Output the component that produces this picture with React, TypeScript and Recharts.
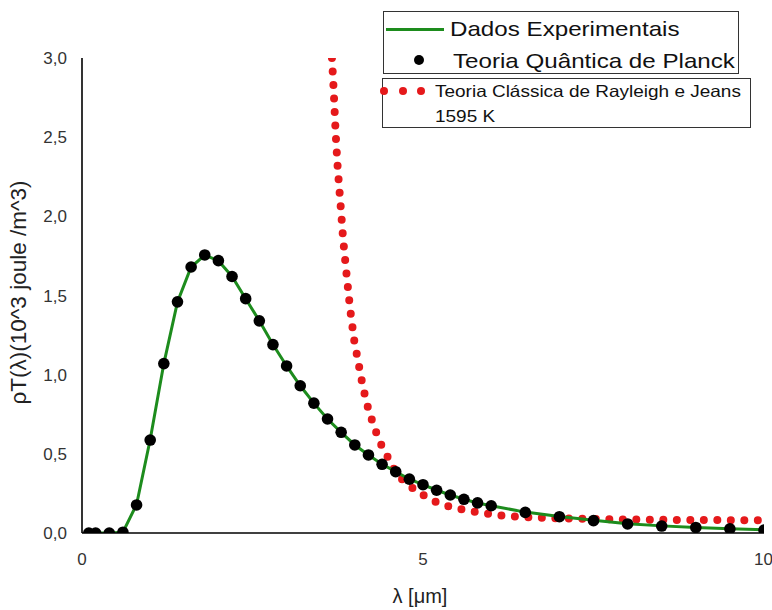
import { ComposedChart, Label, Legend, Line, Scatter, XAxis, YAxis } from "recharts";

// wavelength (µm) of the measured / Planck points
const lambdaPts = [
  0.1, 0.2, 0.4, 0.6, 0.8, 1.0, 1.2, 1.4, 1.6, 1.8, 2.0, 2.2, 2.4, 2.6, 2.8, 3.0, 3.2, 3.4, 3.6,
  3.8, 4.0, 4.2, 4.4, 4.6, 4.8, 5.0, 5.2, 5.4, 5.6, 5.8, 6.0, 6.5, 7.0, 7.5, 8.0, 8.5, 9.0, 9.5,
  10.0,
];

const experimentalRho = [
  0, 0, 0, 0.005, 0.18, 0.59, 1.07, 1.46, 1.68, 1.755, 1.72, 1.62, 1.48, 1.34, 1.19, 1.055, 0.93,
  0.82, 0.72, 0.636, 0.556, 0.493, 0.435, 0.387, 0.34, 0.305, 0.27, 0.24, 0.213, 0.19, 0.172, 0.132,
  0.104, 0.08, 0.058, 0.045, 0.035, 0.027, 0.02,
];

const planckRho = [
  0, 0, 0, 0.005, 0.177, 0.587, 1.07, 1.46, 1.68, 1.756, 1.72, 1.62, 1.48, 1.34, 1.19, 1.055, 0.93,
  0.82, 0.72, 0.636, 0.556, 0.493, 0.434, 0.387, 0.34, 0.305, 0.27, 0.24, 0.213, 0.19, 0.172, 0.13,
  0.103, 0.078, 0.057, 0.044, 0.035, 0.026, 0.019,
];

// Rayleigh-Jeans curve
const rjLambda = [
  3.665, 3.69, 3.72, 3.75, 3.79, 3.83, 3.88, 3.93, 3.99, 4.05, 4.12, 4.2, 4.28, 4.36, 4.47, 4.58,
  4.7, 4.82, 4.98, 5.13, 5.28, 5.45, 5.65, 5.9, 6.2, 6.5, 7.0, 7.5, 8.0, 9.0, 10.0,
];
const rjRho = [
  3.0, 2.8, 2.52, 2.3, 2.08, 1.85, 1.63, 1.42, 1.22, 1.08, 0.92, 0.78, 0.676, 0.58, 0.49, 0.4, 0.335,
  0.292, 0.245, 0.208, 0.18, 0.16, 0.143, 0.124, 0.108, 0.1, 0.092, 0.088, 0.085, 0.082, 0.08,
];

const xTicks = [0, 5, 10];
const yTicks = [0, 0.5, 1, 1.5, 2, 2.5, 3];

const NAME_EXP = "Dados Experimentais";
const NAME_PLANCK = "Teoria Quântica de Planck";
const NAME_RJ = "Teoria Clássica de Rayleigh e Jeans";
const TEMP = "1595 K";

const FONT = '"Liberation Sans", Arial, sans-serif';
const GREEN = "#1d8c1d";
const RED = "#e5191b";

const expData = lambdaPts.map((x, i) => ({ x, y: experimentalRho[i] }));
const planckData = lambdaPts.map((x, i) => ({ x, y: planckRho[i] }));
const rjData = rjLambda.map((x, i) => ({ x, y: rjRho[i] }));

const stretched = (size: number): React.CSSProperties => ({
  display: "inline-block",
  fontSize: size,
  lineHeight: 1,
  whiteSpace: "nowrap",
  transform: "scaleX(1.15)",
  transformOrigin: "left center",
  color: "#111",
});

function LegendBoxes() {
  return (
    <div style={{ position: "relative", width: 370, height: 118, fontFamily: FONT }}>
      <div
        style={{
          position: "absolute",
          left: 0,
          top: 0,
          width: 356,
          height: 63,
          border: "1px solid #333",
          boxSizing: "border-box",
        }}
      >
        <div style={{ position: "absolute", left: 2, top: 16, width: 58, height: 3, background: GREEN }} />
        <div style={{ position: "absolute", left: 66, top: 6 }}>
          <span style={stretched(21)}>{NAME_EXP}</span>
        </div>
        <div
          style={{
            position: "absolute",
            left: 30,
            top: 43,
            width: 10,
            height: 10,
            borderRadius: 5,
            background: "#000",
          }}
        />
        <div style={{ position: "absolute", left: 69, top: 38 }}>
          <span style={stretched(21)}>{NAME_PLANCK}</span>
        </div>
      </div>
      <div
        style={{
          position: "absolute",
          left: -1,
          top: 67,
          width: 369,
          height: 50,
          border: "1px solid #333",
          boxSizing: "border-box",
        }}
      >
        {[0, 19, 37].map((dx) => (
          <div
            key={dx}
            style={{
              position: "absolute",
              left: dx - 3,
              top: 8,
              width: 8,
              height: 8,
              borderRadius: 4,
              background: RED,
            }}
          />
        ))}
        <div style={{ position: "absolute", left: 52, top: 4 }}>
          <span style={stretched(16.5)}>{NAME_RJ}</span>
        </div>
        <div style={{ position: "absolute", left: 52, top: 29 }}>
          <span style={stretched(16.5)}>{TEMP}</span>
        </div>
      </div>
    </div>
  );
}

const fmt = (v: number) => v.toFixed(1).replace(".", ",");

const YTitle = (props: any) => {
  const vb = props.viewBox || {};
  const cx = (vb.x ?? 0) + 18;
  const cy = (vb.y ?? 0) + (vb.height ?? 0) / 2 - 3;
  return (
    <text
      x={cx}
      y={cy}
      transform={`rotate(-90 ${cx} ${cy})`}
      textAnchor="middle"
      dominantBaseline="central"
      fontSize={22.5}
      fontFamily={FONT}
      fill="#222"
    >
      ρT(λ)(10^3 joule /m^3)
    </text>
  );
};

const XTitle = (props: any) => {
  const vb = props.viewBox || {};
  const cx = (vb.x ?? 0) + (vb.width ?? 0) / 2 - 3;
  const cy = (vb.y ?? 0) + 70;
  return (
    <text x={cx} y={cy} textAnchor="middle" fontSize={20} fontFamily={FONT} fill="#222">
      λ [μm]
    </text>
  );
};

const Dot = (props: any) => <circle cx={props.cx} cy={props.cy} r={5.8} fill="#000" />;

export default function App() {
  return (
    <div style={{ position: "absolute", left: 0, top: 0, width: 772, height: 610, background: "#fff" }}>
      <ComposedChart
        width={772}
        height={610}
        margin={{ top: 58, right: 8, bottom: 0, left: 0 }}
        style={{ fontFamily: FONT }}
      >
        <XAxis
          type="number"
          dataKey="x"
          domain={[0, 10]}
          ticks={xTicks}
          allowDataOverflow
          height={77}
          axisLine={{ stroke: "#000", strokeWidth: 1.6 }}
          tickLine={false}
          tickSize={0}
          tickMargin={20}
          tick={{ fontSize: 17, fill: "#333", fontFamily: FONT }}
        >
          <Label content={<XTitle />} />
        </XAxis>
        <YAxis
          type="number"
          dataKey="y"
          domain={[0, 3]}
          ticks={yTicks}
          allowDataOverflow
          width={82}
          axisLine={{ stroke: "#000", strokeWidth: 1.6 }}
          tickLine={false}
          tickSize={0}
          tickMargin={15}
          tickFormatter={fmt}
          tick={{ fontSize: 17, fill: "#333", fontFamily: FONT }}
        >
          <Label content={<YTitle />} />
        </YAxis>
        <Legend
          layout="vertical"
          align="center"
          verticalAlign="middle"
          content={() => <LegendBoxes />}
          wrapperStyle={{ position: "absolute", left: 383, top: 11, width: 370, height: 118 }}
        />
        <Line
          data={rjData}
          dataKey="y"
          name={NAME_RJ}
          type="linear"
          stroke={RED}
          strokeWidth={8}
          strokeLinecap="round"
          strokeDasharray="0 13.5"
          dot={false}
          activeDot={false}
          isAnimationActive={false}
        />
        <Line
          data={expData}
          dataKey="y"
          name={NAME_EXP}
          type="linear"
          stroke={GREEN}
          strokeWidth={3}
          dot={false}
          activeDot={false}
          isAnimationActive={false}
        />
        <Scatter
          data={planckData}
          dataKey="y"
          name={NAME_PLANCK}
          fill="#000"
          shape={<Dot />}
          isAnimationActive={false}
        />
      </ComposedChart>
    </div>
  );
}
